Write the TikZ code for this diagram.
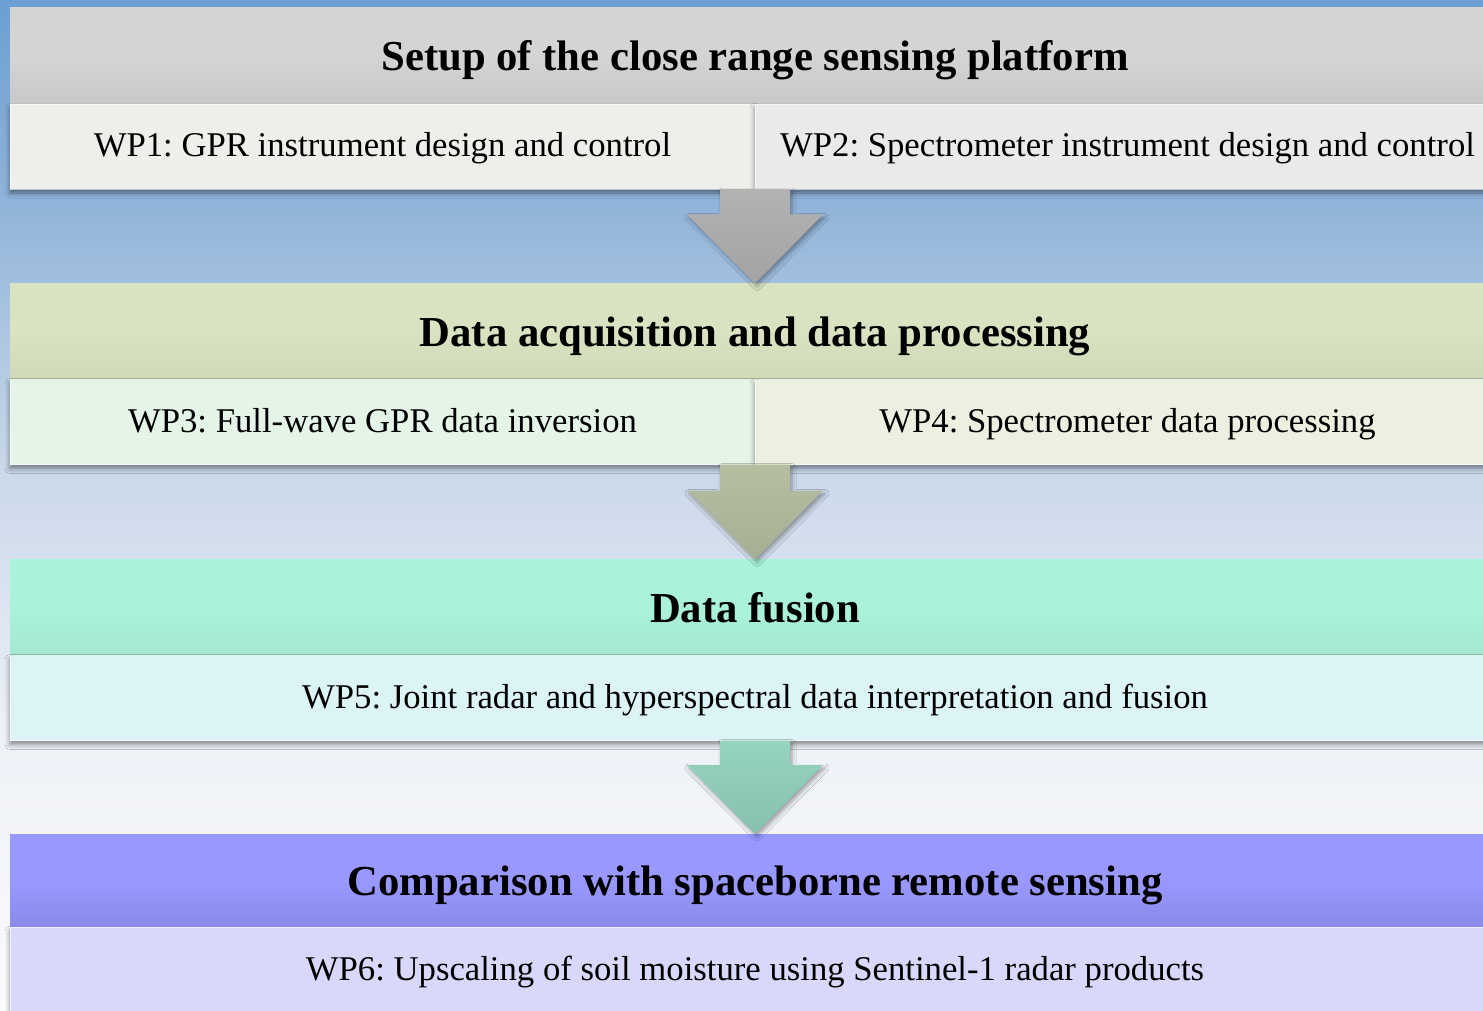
\documentclass[tikz,border=0pt]{standalone}
\usepackage{fontspec}
\setmainfont{Liberation Serif}
\usetikzlibrary{positioning,calc,shadows.blur}
\frenchspacing

% page background
\definecolor{bgA}{HTML}{6B9FD2}
\definecolor{bgB}{HTML}{8EB2D9}
\definecolor{bgC}{HTML}{CAD8EA}
\definecolor{bgD}{HTML}{EEF1F7}
\definecolor{bgE}{HTML}{FAFBFD}
\pgfdeclareverticalshading{skyfade}{100bp}{color(0bp)=(bgE); color(25bp)=(bgE);
  color(38.4bp)=(bgD); color(51.8bp)=(bgC); color(65.6bp)=(bgB); color(75bp)=(bgA); color(100bp)=(bgA)}

% bands and work packages
\definecolor{grayTop}{HTML}{D4D4D4}  \definecolor{grayBot}{HTML}{C8C8C8}
\definecolor{oliveTop}{HTML}{D9E3C1} \definecolor{oliveBot}{HTML}{CFD8B7}
\definecolor{aquaTop}{HTML}{AAF2DA}  \definecolor{aquaBot}{HTML}{A5E8D1}
\definecolor{violTop}{HTML}{9898FF}  \definecolor{violBot}{HTML}{8A8AEA}
\definecolor{wpOne}{HTML}{EEEEEA}    \definecolor{wpTwo}{HTML}{EAEAEA}
\definecolor{wpThree}{HTML}{E4F4E7}  \definecolor{wpFour}{HTML}{EBF0E0}
\definecolor{wpFive}{HTML}{DCF4F6}   \definecolor{wpSix}{HTML}{D8D8FA}
% arrows
\definecolor{arGrayA}{HTML}{B2B2B2}  \definecolor{arGrayB}{HTML}{A3A3A3}
\definecolor{arOliveA}{HTML}{B6BEA2} \definecolor{arOliveB}{HTML}{A6AF94}
\definecolor{arAquaA}{HTML}{97D4BE}  \definecolor{arAquaB}{HTML}{85C1AD}

% block arrow from the bottom of a row to the top of the next band
\newcommand{\flowarrow}[4]{%
  \shade[top color=#3,bottom color=#4,
    blur shadow={shadow xshift=2pt,shadow yshift=-3pt,shadow blur radius=4pt,shadow opacity=35}]
    ($(#1.south -| #2.north)+(-35,0)$) -- ($(#1.south -| #2.north)+(35,0)$) -- ($(#2.north)+(35,-69)$)
    -- ($(#2.north)+(68,-69)$) -- (#2.north) -- ($(#2.north)+(-68,-69)$)
    -- ($(#2.north)+(-35,-69)$) -- cycle;}

\begin{document}
\begin{tikzpicture}[x=1pt,y=-1pt,
    head/.style={minimum width=1490pt,minimum height=96pt,inner sep=0pt,outer sep=0pt,
      text height=33pt,text depth=4pt,font=\fontsize{42.7}{48}\selectfont\bfseries},
    band/.style 2 args={top color=#1,bottom color=#2,middle color=#1},
    wp/.style={minimum height=85pt,inner sep=0pt,outer sep=0pt,draw=white,draw opacity=.6,
      line width=.8pt,text height=26pt,text depth=5pt,font=\fontsize{34.7}{40}\selectfont,
      blur shadow={shadow xshift=0pt,shadow yshift=-4pt,shadow blur radius=5pt,shadow opacity=45}},
    half/.style={wp,minimum width=745pt,anchor=north west},
    full/.style={wp,minimum width=1490pt,anchor=north}]
  \useasboundingbox (0,0) rectangle (1483,1011);
  \shade[shading=skyfade] (0,0) rectangle (1483,1011);

  % setup of the platform
  \node[head,band={grayTop}{grayBot}] (setup) at (755,56) {Setup of the close range sensing platform};
  \node[half,fill=wpOne] (wpone) at (setup.south west) {WP1: GPR instrument design and control};
  \node[half,fill=wpTwo] (wptwo) at (wpone.north east) {WP2: Spectrometer instrument design and control};

  % acquisition and processing
  \node[head,band={oliveTop}{oliveBot}] (acquisition) at (755,331.5) {Data acquisition and data processing};
  \node[half,fill=wpThree] (wpthree) at (acquisition.south west) {WP3: Full-wave GPR data inversion};
  \node[half,fill=wpFour] (wpfour) at (wpthree.north east) {WP4: Spectrometer data processing};

  % fusion
  \node[head,band={aquaTop}{aquaBot}] (fusion) at (755,607.5) {Data fusion};
  \node[full,fill=wpFive] (wpfive) at (fusion.south) {WP5: Joint radar and hyperspectral data interpretation and fusion};

  % spaceborne comparison
  \node[head,band={violTop}{violBot},minimum height=93pt] (comparison) at (755,880.5) {Comparison with spaceborne remote sensing};
  \node[full,fill=wpSix] (wpsix) at (comparison.south) {WP6: Upscaling of soil moisture using Sentinel-1 radar products};

  \flowarrow{wpone}{acquisition}{arGrayA}{arGrayB}
  \flowarrow{wpthree}{fusion}{arOliveA}{arOliveB}
  \flowarrow{wpfive}{comparison}{arAquaA}{arAquaB}
\end{tikzpicture}
\end{document}
